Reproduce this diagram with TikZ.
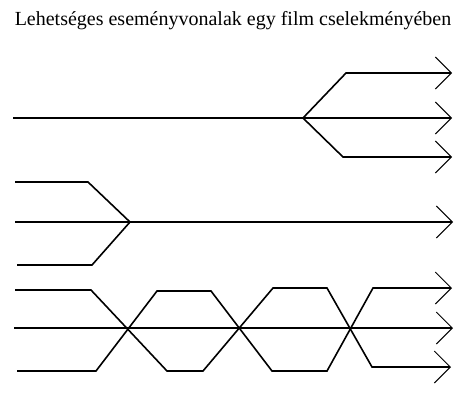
\documentclass[tikz,border=0pt]{standalone}
\usepackage{fontspec}
\setmainfont{Liberation Serif}
\usetikzlibrary{arrows.meta}
\tikzset{
  plot/.style={line width=1.6pt},
  story/.style={plot, -{Straight Barb[length=16pt,width=32pt,line width=1pt]}}
}
\begin{document}
\begin{tikzpicture}[x=1pt,y=-1pt]
\useasboundingbox (0,0) rectangle (470,400);
\node (title) at (233,21) {\fontsize{20}{24}\selectfont Lehetséges eseményvonalak egy film cselekményében};
% szétágazás
\coordinate (split) at (303,118);
\draw [story] (13,118) -- (split) -- (452,118);
\draw [story] (split) -- (346,73) -- (452,73);
\draw [story] (split) -- (343,157) -- (452,157);
% összefutás
\coordinate (merge) at (130,222);
\draw [plot] (15,182) -- (88,182) -- (merge);
\draw [plot] (17,265) -- (92,265) -- (merge);
\draw [story] (15,222) -- (merge) -- (453,222);
% fonódás
\draw [story] (14,328) -- (453,328);
\draw [story] (15,290) -- (91,290) -- (167,371) -- (203,371) -- (273,288) -- (327,288) -- (372,367) -- (451,367);
\draw [story] (17,371) -- (96,371) -- (157,291) -- (211,291) -- (272,371) -- (327,371) -- (373,288) -- (452,288);
\end{tikzpicture}
\end{document}
